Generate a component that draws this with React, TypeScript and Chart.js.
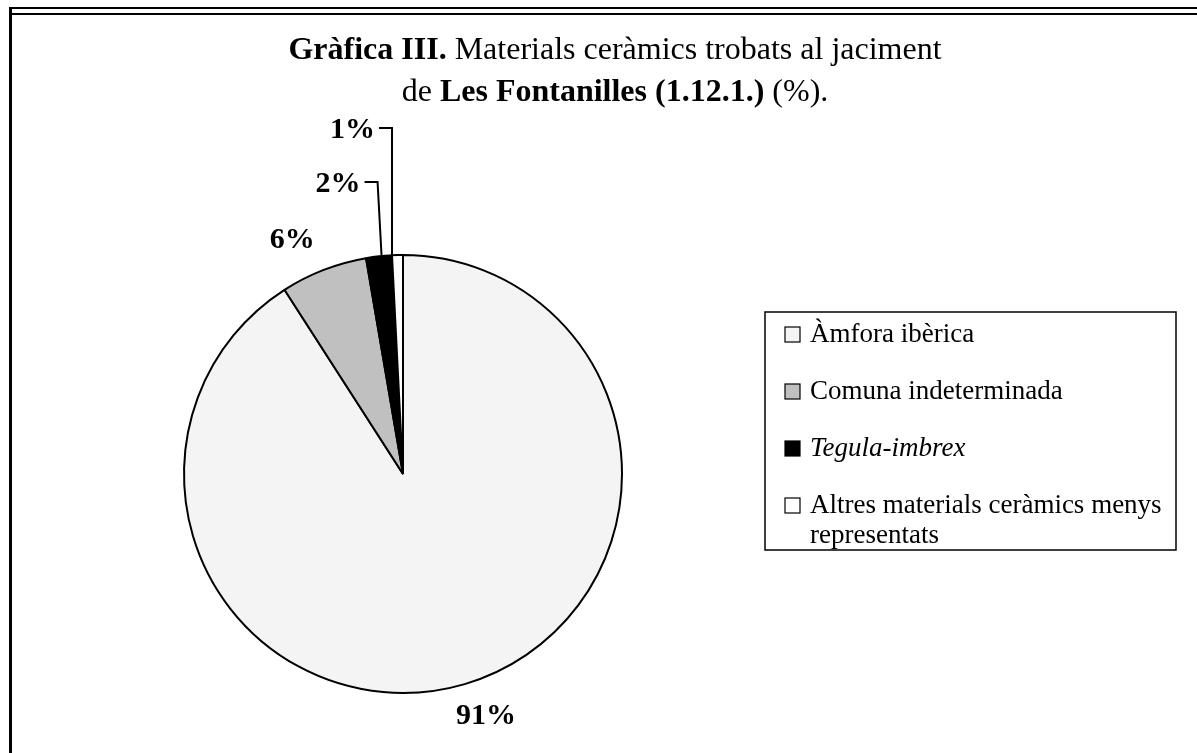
import React, { useEffect, useRef } from "react";
import { Chart, registerables } from "chart.js";

Chart.register(...registerables);

const categories = [
  "Àmfora ibèrica",
  "Comuna indeterminada",
  "Tegula-imbrex",
  "Altres materials ceràmics menys representats",
];
const values = [90.9, 6.4, 1.9, 0.8];
const percentLabels = ["91%", "6%", "2%", "1%"];
const italicItems = [false, false, true, false];
const sliceColors = ["#f4f4f4", "#c0c0c0", "#000000", "#ffffff"];
const titleLine1 = [
  { text: "Gràfica III.", bold: true },
  { text: " Materials ceràmics trobats al jaciment", bold: false },
];
const titleLine2 = [
  { text: "de ", bold: false },
  { text: "Les Fontanilles (1.12.1.)", bold: true },
  { text: " (%).", bold: false },
];

const W = 1197;
const H = 753;
const SERIF = '"Liberation Serif", "Times New Roman", serif';

const decorPlugin = {
  id: "decor",
  afterDraw(chart: any) {
    const ctx = chart.ctx as CanvasRenderingContext2D;
    ctx.save();
    // frame
    ctx.fillStyle = "#000";
    ctx.fillRect(9, 7, W - 9, 2);
    ctx.fillRect(12, 13, W - 12, 2);
    ctx.fillRect(9, 7, 3, H - 7);

    // title
    const drawRich = (segs: { text: string; bold: boolean }[], cx: number, y: number, size: number) => {
      let total = 0;
      const widths = segs.map((s) => {
        ctx.font = `${s.bold ? "bold " : ""}${size}px ${SERIF}`;
        const w = ctx.measureText(s.text).width;
        total += w;
        return w;
      });
      let x = cx - total / 2;
      ctx.textBaseline = "alphabetic";
      ctx.textAlign = "left";
      segs.forEach((s, i) => {
        ctx.font = `${s.bold ? "bold " : ""}${size}px ${SERIF}`;
        ctx.fillText(s.text, x, y);
        x += widths[i];
      });
    };
    ctx.fillStyle = "#000";
    drawRich(titleLine1, 615, 59, 32);
    drawRich(titleLine2, 615, 101, 32);

    // percent labels
    const meta = chart.getDatasetMeta(0);
    const arcs = meta.data as any[];
    ctx.font = `bold 30px ${SERIF}`;
    ctx.textBaseline = "middle";
    ctx.strokeStyle = "#000";
    ctx.lineWidth = 2;
    arcs.forEach((arc, i) => {
      const { x, y, startAngle, endAngle, outerRadius } = arc.getProps(
        ["x", "y", "startAngle", "endAngle", "outerRadius"],
        true
      );
      const mid = (startAngle + endAngle) / 2;
      if (i === 0) {
        const r = outerRadius + 33;
        ctx.textAlign = "center";
        ctx.fillText(percentLabels[i], x + Math.cos(mid) * r + 12, y + Math.sin(mid) * r);
      } else if (i === 1) {
        const r = outerRadius + 34;
        ctx.textAlign = "center";
        ctx.fillText(percentLabels[i], x + Math.cos(mid) * r - 19, y + Math.sin(mid) * r + 2);
      } else {
        const ang = i === 2 ? startAngle + (endAngle - startAngle) * 0.6 : startAngle;
        const ax = x + Math.cos(ang) * outerRadius;
        const ay = y + Math.sin(ang) * outerRadius;
        const ly = i === 2 ? y - outerRadius - 73 : y - outerRadius - 127;
        const topX = i === 2 ? ax - 4 : ax;
        ctx.beginPath();
        ctx.moveTo(ax, ay);
        ctx.lineTo(topX, ly);
        ctx.lineTo(topX - 13, ly);
        ctx.stroke();
        ctx.textAlign = "right";
        ctx.fillText(percentLabels[i], topX - 17, ly + 2);
      }
    });

    // legend
    const bx = 765, by = 312, bw = 411, bh = 238;
    ctx.lineWidth = 1.5;
    ctx.strokeStyle = "#000";
    ctx.strokeRect(bx, by, bw, bh);
    const fontSize = 27;
    const textX = bx + 45;
    const maxW = bx + bw - 6 - textX;
    let rowY = by + 22;
    const ds = chart.data.datasets[0];
    (chart.data.labels as string[]).forEach((label, i) => {
      ctx.font = `${italicItems[i] ? "italic " : ""}${fontSize}px ${SERIF}`;
      const words = label.split(" ");
      const lines: string[] = [];
      let cur = "";
      words.forEach((w) => {
        const t = cur ? cur + " " + w : w;
        if (ctx.measureText(t).width > maxW && cur) {
          lines.push(cur);
          cur = w;
        } else cur = t;
      });
      lines.push(cur);
      ctx.fillStyle = ds.backgroundColor[i];
      ctx.fillRect(bx + 20, rowY - 7, 15, 15);
      ctx.lineWidth = 1.2;
      ctx.strokeRect(bx + 20, rowY - 7, 15, 15);
      ctx.fillStyle = "#000";
      ctx.textAlign = "left";
      ctx.textBaseline = "middle";
      lines.forEach((ln, k) => {
        ctx.fillText(ln, textX, rowY + 1 + k * 30);
      });
      rowY += 57;
    });
    ctx.restore();
  },
};

export default function App() {
  const ref = useRef<HTMLCanvasElement | null>(null);
  useEffect(() => {
    if (!ref.current) return;
    const chart = new Chart(ref.current, {
      type: "pie",
      data: {
        labels: categories,
        datasets: [
          {
            data: values,
            backgroundColor: sliceColors,
            borderColor: "#000",
            borderWidth: 2,
          },
        ],
      },
      options: {
        animation: false,
        responsive: false,
        maintainAspectRatio: false,
        layout: { padding: { left: 183, right: W - 623, top: 254, bottom: H - 694 } },
        plugins: {
          legend: { display: false },
          title: { display: false },
          tooltip: { enabled: false },
        },
      },
      plugins: [decorPlugin],
    });
    return () => chart.destroy();
  }, []);
  return (
    <div style={{ position: "fixed", left: 0, top: 0, width: W, height: H, background: "#fff" }}>
      <canvas ref={ref} width={W} height={H} style={{ display: "block", width: W, height: H }} />
    </div>
  );
}
